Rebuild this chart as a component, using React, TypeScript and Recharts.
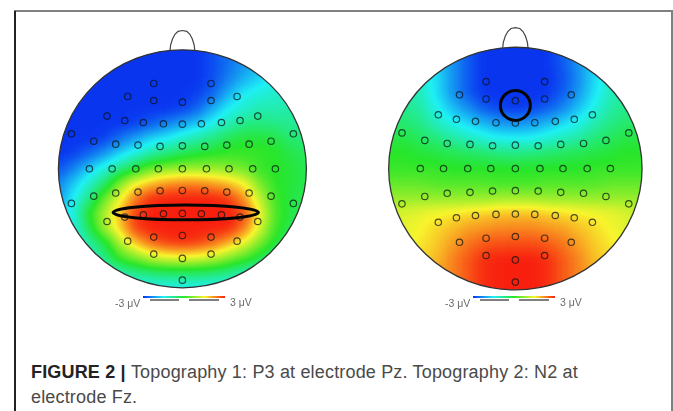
import React from 'react';
import { ScatterChart, Scatter, XAxis, YAxis } from 'recharts';

// normalised scalp coordinates: x right, y up, head outline at radius 1
const gridX = [-1, -0.875, -0.75, -0.625, -0.5, -0.375, -0.25, -0.125, 0, 0.125, 0.25, 0.375, 0.5, 0.625, 0.75, 0.875, 1];
const gridY = [1, 0.875, 0.75, 0.625, 0.5, 0.375, 0.25, 0.125, 0, -0.125, -0.25, -0.375, -0.5, -0.625, -0.75, -0.875, -1];

// amplitude in microvolts, one row per gridY
const p3Rows = [
  [-3, -3, -3, -3, -3, -3, -3, -3, -3, -3, -2.8, -2.5, -2.2, -1.9, -1.7, -1.5, -1.5],
  [-3, -3, -3, -3, -3, -3, -3, -3, -3, -3, -2.8, -2.5, -2.2, -1.9, -1.7, -1.5, -1.5],
  [-3, -3, -3, -3, -3, -3, -3, -3, -3, -3, -2.8, -2.4, -2, -1.7, -1.4, -1.3, -1.2],
  [-3, -3, -3, -3, -3, -3, -3, -3, -3, -2.9, -2.6, -2, -1.5, -1.3, -1.2, -1.1, -1],
  [-3, -3, -3, -3, -3, -3, -3, -3, -2.9, -2.6, -2, -1.5, -1.2, -1, -1, -0.9, -0.9],
  [-3, -3, -3, -3, -3, -2.9, -2.7, -2.4, -2.1, -1.8, -1.4, -1, -0.7, -0.6, -0.7, -0.8, -0.8],
  [-3, -3, -3, -2.9, -2.5, -2.1, -1.7, -1.5, -1.2, -0.9, -0.6, -0.3, -0.1, -0.1, -0.2, -0.5, -0.6],
  [-3, -2.9, -2.6, -2.2, -1.7, -1.3, -0.9, -0.6, -0.3, -0.1, 0, 0.1, 0.1, 0.1, 0, -0.2, -0.4],
  [-2.8, -2.4, -1.8, -1.3, -0.7, -0.1, 0.5, 0.7, 0.8, 0.8, 0.8, 0.7, 0.5, 0.1, 0, -0.1, -0.3],
  [-2.4, -1.8, -1.2, -0.5, 0.7, 1.5, 1.9, 2.2, 2.3, 2.3, 2.1, 1.9, 1.5, 0.6, 0, -0.1, -0.3],
  [-2.2, -1.5, -0.7, 0.5, 1.4, 2.4, 2.9, 3, 3, 3, 3, 2.8, 2.2, 1.1, 0.2, -0.2, -0.3],
  [-1.9, -1.3, 0, 1, 1.9, 2.8, 3, 3, 3, 3, 3, 3, 2.7, 1.5, 0.3, -0.2, -0.4],
  [-1.9, -1.4, -0.3, 0.9, 1.8, 2.8, 3, 3, 3, 3, 3, 3, 2.4, 1.3, 0.2, -0.3, -0.6],
  [-1.9, -1.5, -0.9, -0.2, 1, 1.9, 2.5, 2.8, 2.9, 2.8, 2.5, 2, 1.4, 0.6, -0.1, -0.6, -0.8],
  [-1.9, -1.6, -1.2, -0.7, 0.2, 0.6, 1.1, 1.3, 1.4, 1.3, 1.1, 0.7, 0.3, -0.2, -0.7, -1, -1.1],
  [-1.9, -1.7, -1.5, -1.2, -1, -0.7, -0.5, -0.4, -0.4, -0.4, -0.5, -0.7, -1, -1.2, -1.3, -1.4, -1.4],
  [-1.9, -1.8, -1.7, -1.6, -1.5, -1.5, -1.5, -1.5, -1.5, -1.5, -1.5, -1.5, -1.5, -1.6, -1.6, -1.6, -1.6],
];

const n2Rows = [
  [-1.4, -1.4, -1.5, -1.8, -2.3, -2.7, -3, -3, -3, -3, -3, -2.7, -2.3, -1.8, -1.5, -1.4, -1.4],
  [-1.2, -1.2, -1.3, -1.7, -2.2, -2.7, -3, -3, -3, -3, -3, -2.7, -2.2, -1.7, -1.3, -1.2, -1.2],
  [-1, -1, -1.2, -1.6, -2.2, -2.7, -3, -3, -3, -3, -3, -2.8, -2.3, -1.7, -1.2, -1, -1],
  [-0.9, -0.9, -1.1, -1.6, -2.2, -2.7, -3, -3, -3, -3, -3, -2.7, -2.2, -1.6, -1.1, -0.9, -0.9],
  [-0.7, -0.7, -0.9, -1.4, -1.9, -2.3, -2.7, -2.9, -3, -2.9, -2.7, -2.4, -1.9, -1.4, -0.9, -0.7, -0.7],
  [-0.5, -0.5, -0.7, -1.1, -1.4, -1.7, -2, -2.2, -2.3, -2.2, -2, -1.7, -1.4, -1, -0.7, -0.5, -0.4],
  [-0.2, -0.2, -0.4, -0.6, -0.9, -1.1, -1.3, -1.5, -1.5, -1.5, -1.3, -1.1, -0.9, -0.6, -0.4, -0.2, -0.2],
  [0, 0, -0.1, -0.2, -0.3, -0.4, -0.5, -0.6, -0.7, -0.6, -0.5, -0.4, -0.3, -0.2, -0.1, 0, 0],
  [0.1, 0.1, 0.1, 0.1, 0, 0, 0, 0, 0, 0, 0, 0, 0, 0.1, 0.1, 0.1, 0.1],
  [0.4, 0.4, 0.4, 0.3, 0.3, 0.3, 0.3, 0.2, 0.2, 0.2, 0.3, 0.3, 0.3, 0.3, 0.4, 0.4, 0.4],
  [0.8, 0.8, 0.8, 0.8, 0.8, 0.8, 0.8, 0.9, 0.9, 0.9, 0.8, 0.8, 0.8, 0.8, 0.8, 0.8, 0.8],
  [1.2, 1.3, 1.4, 1.5, 1.6, 1.7, 1.8, 1.9, 1.9, 1.9, 1.8, 1.7, 1.6, 1.5, 1.4, 1.3, 1.1],
  [1.3, 1.4, 1.5, 1.7, 1.9, 2.1, 2.2, 2.3, 2.3, 2.3, 2.2, 2.1, 1.9, 1.7, 1.5, 1.3, 1.2],
  [1.3, 1.4, 1.6, 1.8, 2.1, 2.4, 2.6, 2.7, 2.7, 2.7, 2.6, 2.4, 2.1, 1.8, 1.6, 1.4, 1.3],
  [1.4, 1.5, 1.7, 1.9, 2.3, 2.6, 2.9, 3, 3, 3, 2.9, 2.6, 2.3, 1.9, 1.7, 1.5, 1.4],
  [1.4, 1.5, 1.7, 2, 2.3, 2.6, 2.9, 3, 3, 3, 2.9, 2.6, 2.3, 2, 1.7, 1.5, 1.4],
  [1.4, 1.5, 1.7, 2, 2.3, 2.6, 2.9, 3, 3, 3, 2.9, 2.6, 2.3, 2, 1.7, 1.5, 1.4],
];

const electrodes: [number, number][] = [
  [-0.231, 0.717], [0.231, 0.717],
  [-0.441, 0.608], [-0.231, 0.574], [0, 0.56], [0.231, 0.574], [0.441, 0.608],
  [-0.608, 0.443], [-0.465, 0.406], [-0.315, 0.389], [-0.153, 0.378], [0, 0.375], [0.153, 0.378], [0.315, 0.389], [0.465, 0.406], [0.608, 0.443],
  [-0.895, 0.294], [0.895, 0.294],
  [-0.715, 0.232], [-0.538, 0.207], [-0.358, 0.199], [-0.18, 0.188], [0, 0.193], [0.18, 0.188], [0.358, 0.199], [0.538, 0.207], [0.715, 0.232],
  [-0.75, 0], [-0.567, 0], [-0.376, 0], [-0.194, 0], [0, 0], [0.194, 0], [0.376, 0], [0.567, 0], [0.75, 0],
  [-0.715, -0.23], [-0.538, -0.204], [-0.358, -0.196], [-0.18, -0.185], [0, -0.182], [0.18, -0.185], [0.358, -0.196], [0.538, -0.204], [0.715, -0.23],
  [-0.895, -0.291], [0.895, -0.291],
  [-0.608, -0.443], [-0.465, -0.406], [-0.315, -0.387], [-0.153, -0.378], [0, -0.375], [0.153, -0.378], [0.315, -0.387], [0.465, -0.406], [0.608, -0.443],
  [-0.441, -0.608], [-0.231, -0.574], [0, -0.56], [0.231, -0.574], [0.441, -0.608],
  [-0.231, -0.717], [0, -0.753], [0.231, -0.717],
  [0, -0.936],
];

const noseX = [-0.1, -0.095, -0.08, -0.06, -0.035, 0, 0.035, 0.06, 0.08, 0.095, 0.1];
const noseY = [0.995, 1.04, 1.09, 1.13, 1.155, 1.162, 1.155, 1.13, 1.09, 1.04, 0.995];

const colorStops = ['#0a35f0', '#1ff0f5', '#28e62a', '#f8f52e', '#f8200f'];

function channelTable(channel: number) {
  return colorStops.map((hex) => (parseInt(hex.slice(1 + channel * 2, 3 + channel * 2), 16) / 255).toFixed(3)).join(' ');
}

// cells carry the voltage as grey, the filter blurs that and maps it to the colour scale
function voltGrey(v: number) {
  const g = Math.round(((v + 3) / 6) * 255);
  return `rgb(${g},${g},${g})`;
}

const electrodeData = electrodes.map(([x, y]) => ({ x, y }));
const noseData = noseX.map((x, i) => ({ x, y: noseY[i] }));

interface HeadProps {
  id: string;
  rows: number[][];
  cx: number;
  cy: number;
  rx: number;
  ry: number;
  mark: { x: number; y: number; rx: number; ry: number };
}

function Head({ id, rows, cx, cy, rx, ry, mark }: HeadProps) {
  const cells = rows.flatMap((row, r) => row.map((v, c) => ({ x: gridX[c], y: gridY[r], v })));
  const width = rx * 2.2;
  const height = ry * 2.3;
  const cw = rx * 0.13;
  const ch = ry * 0.13;
  return (
    <div style={{ position: 'absolute', left: cx - rx * 1.1, top: cy - ry * 1.2, filter: 'blur(0.45px)' }}>
      <style>{`.heat-${id} { filter: url(#blur-${id}); clip-path: url(#clip-${id}); }`}</style>
      <ScatterChart width={width} height={height} margin={{ top: 0, right: 0, bottom: 0, left: 0 }}>
        <defs>
          <filter id={`blur-${id}`} x="-10%" y="-10%" width="120%" height="120%" colorInterpolationFilters="sRGB">
            <feGaussianBlur stdDeviation="6.5" />
            <feComponentTransfer>
              <feFuncR type="table" tableValues={channelTable(0)} />
              <feFuncG type="table" tableValues={channelTable(1)} />
              <feFuncB type="table" tableValues={channelTable(2)} />
              <feFuncA type="linear" slope="30" />
            </feComponentTransfer>
          </filter>
          <clipPath id={`clip-${id}`}>
            <ellipse cx={rx * 1.1} cy={ry * 1.2} rx={rx} ry={ry} />
          </clipPath>
        </defs>
        <XAxis type="number" dataKey="x" domain={[-1.1, 1.1]} hide />
        <YAxis type="number" dataKey="y" domain={[-1.1, 1.2]} hide />
        <Scatter
          className={`heat-${id}`}
          data={cells}
          isAnimationActive={false}
          shape={(p: any) => (
            <rect x={p.cx - cw / 2} y={p.cy - ch / 2} width={cw} height={ch} fill={voltGrey(p.payload.v)} />
          )}
        />
        <Scatter
          data={[{ x: 0, y: 0 }]}
          isAnimationActive={false}
          shape={(p: any) => <ellipse cx={p.cx} cy={p.cy} rx={rx} ry={ry} fill="none" stroke="#333" strokeWidth={1.3} />}
        />
        <Scatter
          data={noseData}
          isAnimationActive={false}
          line={{ stroke: '#444', strokeWidth: 1.2 }}
          shape={() => <g />}
        />
        <Scatter
          data={electrodeData}
          isAnimationActive={false}
          shape={(p: any) => <circle cx={p.cx} cy={p.cy} r={3.2} fill="none" stroke="rgba(10,20,20,0.72)" strokeWidth={1.2} />}
        />
        <Scatter
          data={[{ x: mark.x, y: mark.y }]}
          isAnimationActive={false}
          shape={(p: any) => (
            <ellipse cx={p.cx} cy={p.cy} rx={mark.rx * rx} ry={mark.ry * ry} fill="none" stroke="#050505" strokeWidth={3} />
          )}
        />
      </ScatterChart>
    </div>
  );
}

function ColorBar({ left, top }: { left: number; top: number }) {
  const base: React.CSSProperties = { position: 'absolute', fontFamily: '"Liberation Sans", Arial, sans-serif', fontSize: 10.5, color: '#6a6a6a', whiteSpace: 'nowrap', filter: 'blur(0.3px)' };
  return (
    <>
      <div style={{ position: 'absolute', left, top, width: 82, height: 2.4, background: `linear-gradient(to right, ${colorStops.join(', ')})` }} />
      <div style={{ position: 'absolute', left: left + 7, top: top + 3, width: 29, height: 2, background: '#808080' }} />
      <div style={{ position: 'absolute', left: left + 46, top: top + 3, width: 30, height: 2, background: '#808080' }} />
      <div style={{ ...base, left: left - 28, top: top + 1 }}>-3 μV</div>
      <div style={{ ...base, left: left + 87, top: top + 0 }}>3 μV</div>
    </>
  );
}

export default function App() {
  const captionFont = '"Liberation Sans", Arial, sans-serif';
  return (
    <div style={{ position: 'absolute', left: 0, top: 0, width: 673, height: 411, background: '#fff', overflow: 'hidden' }}>
      <div style={{ position: 'absolute', left: 14, top: 10, width: 659, height: 2, background: '#808080' }} />
      <div style={{ position: 'absolute', left: 14, top: 11, width: 1.5, height: 400, background: '#222' }} />
      <div style={{ position: 'absolute', left: 671, top: 11, width: 2, height: 400, background: '#808080' }} />
      <Head id="p3" rows={p3Rows} cx={182.5} cy={169} rx={124} ry={119} mark={{ x: 0.027, y: -0.367, rx: 0.586, ry: 0.062 }} />
      <Head id="n2" rows={n2Rows} cx={515.3} cy={168.7} rx={126.7} ry={121.3} mark={{ x: 0, y: 0.52, rx: 0.118, ry: 0.123 }} />
      <ColorBar left={143} top={296} />
      <ColorBar left={473} top={296} />
      <div style={{ position: 'absolute', left: 31, top: 360, width: 620, fontFamily: captionFont, fontSize: 18, letterSpacing: 0.17, lineHeight: '25px', color: '#4a4a4a' }}>
        <span style={{ fontWeight: 700, color: '#222' }}>FIGURE 2 | </span>
        Topography 1: P3 at electrode Pz. Topography 2: N2 at
        <br />
        electrode Fz.
      </div>
    </div>
  );
}
